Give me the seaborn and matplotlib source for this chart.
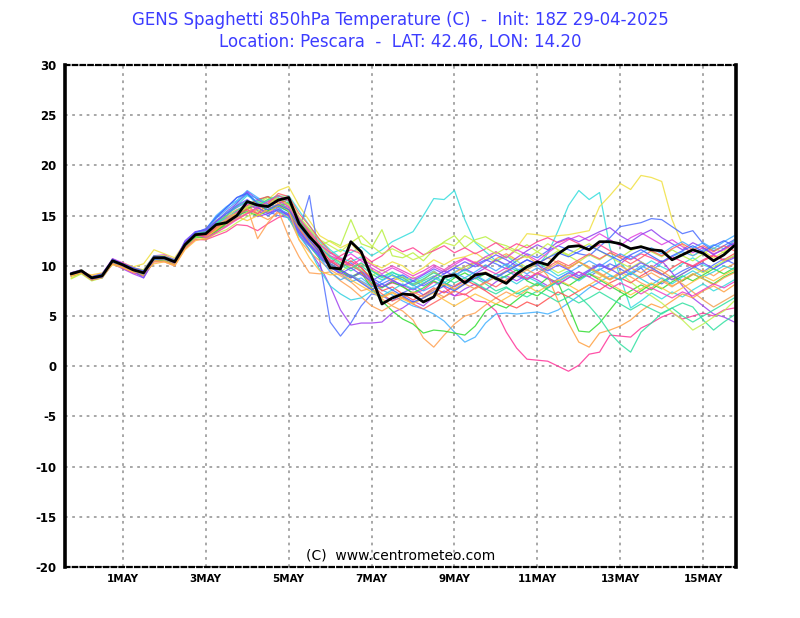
import pandas as pd
import seaborn as sns
import matplotlib.pyplot as plt

# 850hPa temperature, GENS members, 6-hourly from 18Z 29-04-2025 (hours after init)
hours = list(range(0, 385, 6))

# control / mean run (black line)
control = [9.2, 9.5, 8.8, 9.0, 10.5, 10.1, 9.6, 9.3, 10.8, 10.8, 10.4, 12.1, 13.1,
           13.2, 14.1, 14.3, 15.0, 16.4, 16.05, 15.9, 16.55, 16.8, 14.2, 12.9, 11.8, 9.8,
           9.7, 12.4, 11.4, 8.9, 6.2, 6.8, 7.2, 7.1, 6.4, 6.9, 8.9, 9.1, 8.3,
           9.1, 9.25, 8.75, 8.25, 9.2, 9.9, 10.4, 10.1, 11.2, 11.9, 12.0, 11.6, 12.4,
           12.4, 12.2, 11.7, 11.9, 11.6, 11.5, 10.6, 11.1, 11.6, 11.25, 10.5, 11.1, 12.0]

m01 = [9.1, 9.4, 8.7, 9.1, 10.4, 10.2, 9.5, 9.2, 10.6, 10.9, 10.3, 12.0, 12.9,
       13.0, 13.8, 14.6, 15.4, 16.0, 15.2, 15.6, 16.2, 15.8, 14.0, 12.8, 11.5, 10.6,
       10.0, 10.8, 9.9, 8.6, 7.9, 8.3, 8.0, 7.2, 7.6, 8.4, 7.9, 7.0, 7.2,
       6.5, 6.4, 5.5, 3.4, 1.8, 0.7, 0.6, 0.5, 0.0, -0.5, 0.1, 1.2, 1.4,
       3.1, 3.0, 2.9, 3.8, 4.3, 4.9, 5.3, 4.7, 5.0, 5.3, 5.0, 5.6, 5.8]
m02 = [9.3, 9.5, 8.9, 9.0, 10.6, 10.0, 9.7, 9.4, 10.9, 10.7, 10.5, 12.2, 13.2,
       13.3, 14.2, 14.9, 16.3, 17.2, 16.0, 16.4, 16.8, 16.2, 14.8, 13.6, 12.4, 11.2,
       11.6, 11.3, 11.9, 11.0, 11.6, 12.4, 12.9, 13.4, 15.0, 16.7, 16.6, 17.5, 14.6,
       12.3, 11.4, 10.5, 11.0, 10.2, 9.6, 10.3, 9.7, 9.0, 9.5, 8.8, 9.4, 10.1,
       9.6, 10.3, 9.2, 9.8, 10.5, 9.9, 9.4, 10.2, 10.8, 10.1, 9.7, 10.4, 11.0]
m03 = [9.2, 9.6, 8.8, 8.9, 10.5, 10.1, 9.8, 9.5, 10.7, 10.8, 10.4, 12.0, 13.0,
       13.4, 14.0, 14.5, 15.2, 16.0, 15.8, 16.5, 16.9, 17.0, 15.5, 14.0, 12.6, 11.6,
       10.8, 10.4, 10.9, 9.5, 8.8, 9.3, 9.0, 8.4, 8.9, 9.5, 8.7, 9.4, 9.9,
       10.3, 9.8, 10.6, 10.0, 9.5, 10.0, 10.0, 11.2, 13.5, 16.0, 17.5, 16.6, 17.3,
       11.8, 8.9, 5.8, 6.5, 7.3, 6.7, 7.4, 6.9, 7.6, 8.2, 7.5, 8.0, 8.6]
m04 = [8.8, 9.3, 9.0, 9.2, 10.3, 10.3, 9.9, 10.2, 11.6, 11.2, 10.8, 12.3, 13.0,
       12.9, 13.6, 14.3, 15.0, 15.6, 16.1, 16.6, 17.5, 17.9, 16.0, 14.5, 13.0, 12.4,
       11.8, 12.3, 11.0, 10.2, 9.8, 10.4, 10.0, 9.2, 9.8, 10.6, 10.1, 10.7, 10.9,
       11.3, 10.6, 11.4, 10.8, 11.8, 13.2, 13.1, 12.9, 13.0, 13.1, 13.3, 13.5, 15.9,
       17.0, 18.2, 17.6, 19.0, 18.8, 18.4, 14.6, 12.1, 11.0, 11.5, 10.8, 11.4, 12.6]
m05 = [9.2, 9.4, 8.6, 9.0, 10.6, 10.0, 9.4, 9.1, 10.8, 10.6, 10.2, 12.3, 13.3,
       13.1, 14.5, 15.2, 15.8, 16.4, 15.5, 15.0, 15.6, 15.2, 13.0, 12.0, 11.2, 10.4,
       9.8, 10.3, 9.5, 8.8, 8.2, 8.7, 9.1, 8.5, 8.0, 8.6, 9.2, 9.8, 9.5,
       10.1, 10.6, 10.2, 9.7, 10.5, 11.2, 10.8, 11.5, 12.0, 11.6, 11.2, 11.0, 11.9,
       12.8, 13.9, 14.1, 14.3, 14.7, 14.6, 13.9, 13.2, 13.5, 12.2, 11.5, 12.0, 12.6]
m06 = [9.1, 9.5, 8.9, 9.1, 10.4, 10.1, 9.7, 9.3, 10.9, 10.9, 10.4, 12.2, 13.0,
       13.5, 14.9, 15.8, 16.8, 17.3, 16.2, 15.4, 15.0, 14.8, 13.5, 17.0, 10.5, 4.4,
       3.0, 4.3, 6.0, 7.2, 7.0, 6.5, 7.3, 7.8, 7.1, 7.6, 8.3, 7.9, 8.5,
       9.0, 8.4, 8.9, 9.5, 9.0, 8.6, 9.2, 8.7, 8.1, 8.8, 9.4, 8.9, 9.6,
       10.2, 9.7, 9.1, 9.8, 8.7, 8.2, 8.9, 9.5, 10.0, 9.4, 10.1, 10.7, 10.2]
m07 = [9.0, 9.3, 8.6, 8.8, 10.2, 9.7, 9.2, 8.8, 10.5, 10.6, 10.1, 11.8, 12.8,
       13.0, 13.6, 14.0, 14.8, 15.6, 14.9, 15.2, 15.8, 15.0, 13.2, 11.6, 10.0, 8.0,
       5.6, 4.1, 4.3, 4.3, 4.4, 5.3, 5.8, 6.5, 6.0, 6.9, 7.5, 7.0, 7.7,
       8.2, 7.6, 8.4, 9.0, 8.5, 9.1, 8.6, 8.0, 8.7, 9.3, 8.8, 9.5, 10.1,
       9.6, 10.2, 11.0, 10.4, 9.8, 10.5, 9.3, 8.0, 6.8, 6.0, 5.2, 4.9, 4.4]
m08 = [9.2, 9.4, 8.8, 9.0, 10.3, 10.0, 9.5, 9.4, 10.5, 10.7, 10.2, 11.9, 13.0,
       13.4, 14.3, 15.0, 15.6, 15.9, 15.1, 14.6, 15.3, 14.9, 12.6, 11.4, 10.5, 9.6,
       9.0, 8.4, 7.5, 7.8, 6.7, 6.0, 5.5, 4.6, 2.8, 1.9, 3.1, 4.2, 5.0,
       5.3, 6.1, 6.8, 7.4, 6.9, 7.6, 8.2, 7.8, 8.5, 9.1, 8.6, 9.2, 8.8,
       9.5, 10.0, 9.4, 8.8, 9.3, 8.7, 8.0, 8.5, 9.1, 9.6, 9.0, 9.7, 10.2]
m09 = [9.3, 9.6, 8.8, 9.1, 10.5, 10.2, 9.7, 9.3, 10.8, 10.9, 10.5, 12.0, 13.2,
       13.6, 15.0, 15.9, 16.5, 17.5, 16.8, 16.2, 15.9, 15.4, 13.8, 12.3, 11.0, 9.9,
       9.2, 8.4, 8.8, 8.0, 7.6, 7.1, 6.5, 6.0, 5.7, 5.2, 4.5, 3.4, 2.4,
       2.9, 4.3, 5.2, 5.3, 5.2, 5.3, 5.4, 5.2, 5.6, 6.3, 7.0, 7.8, 8.4,
       9.0, 8.6, 9.3, 10.0, 9.5, 10.3, 10.9, 11.4, 11.0, 11.6, 12.1, 11.7, 12.5]
m10 = [9.0, 9.3, 8.6, 8.9, 10.3, 9.9, 9.4, 9.0, 10.6, 10.5, 10.2, 11.9, 12.9,
       12.8, 13.4, 14.2, 15.0, 15.4, 15.0, 15.5, 15.9, 16.3, 14.4, 13.1, 11.6, 10.2,
       9.6, 8.9, 9.4, 8.3, 7.8, 8.4, 7.9, 7.3, 7.8, 8.5, 8.0, 8.8, 9.3,
       8.7, 9.2, 8.6, 9.0, 9.6, 8.5, 8.0, 8.8, 8.3, 6.0, 3.5, 3.4, 4.3,
       5.6, 6.9, 7.5, 8.1, 7.6, 8.4, 9.0, 8.5, 9.2, 8.7, 8.2, 8.9, 9.4]
m11 = [9.1, 9.5, 8.9, 9.2, 10.5, 10.3, 9.8, 9.6, 10.9, 11.0, 10.6, 12.1, 13.0,
       13.2, 13.9, 14.2, 14.6, 15.2, 15.6, 16.2, 16.7, 16.1, 14.7, 13.5, 12.2, 11.0,
       10.4, 9.8, 10.2, 9.6, 9.0, 8.5, 8.9, 8.1, 8.6, 9.4, 8.8, 9.3, 9.9,
       10.4, 9.8, 10.7, 11.2, 10.6, 11.0, 10.2, 9.0, 6.5, 4.3, 2.4, 1.9, 3.3,
       3.6, 4.0, 4.6, 5.5, 6.2, 5.8, 6.5, 7.2, 6.8, 7.5, 8.0, 7.4, 8.1]
m12 = [9.2, 9.5, 8.7, 8.8, 10.4, 10.0, 9.6, 9.2, 10.7, 10.6, 10.3, 12.1, 13.1,
       13.3, 14.1, 14.8, 15.5, 16.2, 16.5, 16.9, 16.4, 15.6, 13.9, 12.7, 11.9, 10.8,
       10.1, 9.5, 10.0, 9.2, 8.6, 9.1, 8.6, 8.0, 8.5, 9.0, 8.4, 7.6, 8.2,
       8.8, 8.2, 7.5, 7.9, 7.2, 7.7, 8.3, 7.6, 7.1, 7.7, 7.0, 6.0, 4.8,
       3.3, 2.2, 1.4, 3.4, 4.3, 5.3, 5.8, 6.3, 5.9, 4.6, 3.6, 4.4, 5.1]
m13 = [8.7, 9.2, 8.5, 8.8, 10.2, 10.0, 9.5, 9.1, 10.6, 10.7, 10.3, 12.0, 12.8,
       13.1, 13.7, 14.4, 15.1, 15.8, 16.3, 16.8, 16.6, 16.0, 14.6, 13.3, 12.0, 12.5,
       12.0, 14.6, 12.2, 11.8, 13.6, 11.0, 10.8, 11.3, 10.5, 11.6, 12.4, 13.0, 11.8,
       12.6, 12.9, 12.3, 12.0, 11.5, 12.1, 11.4, 10.8, 11.5, 11.0, 10.4, 11.1, 10.6,
       11.3, 10.8, 11.5, 12.0, 11.4, 10.9, 11.6, 11.0, 10.5, 11.2, 11.8, 11.3, 12.1]
m14 = [9.0, 9.4, 8.7, 9.0, 10.4, 10.1, 9.6, 9.2, 10.7, 10.8, 10.4, 12.1, 13.0,
       12.7, 13.2, 13.6, 14.3, 14.9, 15.4, 15.9, 16.4, 16.0, 13.9, 12.4, 11.3, 10.0,
       9.4, 10.1, 9.6, 9.0, 9.6, 9.0, 8.4, 8.9, 8.2, 8.8, 9.5, 10.0, 9.6,
       10.3, 10.9, 10.4, 11.0, 10.5, 9.8, 10.4, 9.9, 9.3, 9.8, 10.4, 9.7, 9.1,
       8.6, 9.3, 8.4, 7.6, 7.0, 6.3, 5.4, 4.6, 3.6, 4.2, 4.9, 5.5, 6.5]
m15 = [9.1, 9.4, 8.8, 9.0, 10.5, 10.1, 9.6, 9.3, 10.6, 10.8, 10.3, 12.0, 12.9,
       12.8, 13.5, 14.3, 15.0, 15.7, 16.1, 15.5, 16.0, 15.4, 13.6, 12.0, 10.7, 10.1,
       9.5, 8.8, 9.3, 7.8, 6.5, 5.5, 4.7, 4.2, 3.3, 3.6, 3.5, 3.3, 3.1,
       4.0, 5.5, 6.2, 5.8, 6.6, 7.4, 7.0, 7.8, 8.5, 8.0, 8.7, 9.2, 8.6,
       8.0, 7.4, 6.8, 7.5, 8.2, 7.7, 8.4, 9.0, 8.5, 9.1, 9.7, 9.2, 9.8]
m16 = [9.2, 9.5, 8.7, 9.1, 10.6, 10.2, 9.7, 9.4, 10.9, 10.9, 10.5, 12.2, 13.1,
       13.0, 13.6, 14.4, 15.2, 16.0, 16.6, 16.9, 16.2, 16.6, 14.5, 13.2, 11.8, 10.5,
       9.8, 10.5, 9.8, 8.7, 7.5, 7.9, 7.2, 6.6, 7.1, 7.8, 7.3, 8.0, 8.6,
       8.1, 7.5, 6.8, 6.2, 5.8, 6.4, 6.0, 6.7, 7.4, 6.9, 7.5, 8.1, 7.6,
       8.3, 8.8, 8.3, 9.0, 9.6, 9.1, 9.8, 10.4, 9.9, 10.5, 11.0, 10.6, 11.2]
m17 = [9.3, 9.6, 8.9, 9.2, 10.7, 10.3, 9.8, 9.5, 11.0, 11.1, 10.6, 12.3, 13.3,
       13.2, 14.0, 14.7, 15.3, 16.1, 15.7, 16.2, 16.5, 15.9, 14.1, 12.9, 11.7, 11.0,
       10.6, 11.2, 10.5, 9.8, 9.2, 9.8, 9.3, 8.7, 9.2, 9.9, 9.4, 10.1, 10.7,
       10.2, 10.9, 11.4, 10.8, 11.6, 11.1, 10.5, 11.3, 12.0, 12.6, 13.0, 12.5, 13.2,
       12.6, 12.0, 12.8, 13.3, 12.7, 12.1, 12.6, 11.9, 11.3, 11.8, 11.2, 11.6, 12.2]
m18 = [9.0, 9.4, 8.6, 8.9, 10.3, 9.8, 9.3, 9.0, 10.4, 10.4, 10.0, 11.7, 12.6,
       12.6, 13.0, 13.4, 14.1, 14.0, 13.5, 14.2, 14.8, 15.2, 13.6, 12.5, 11.4, 10.3,
       11.0, 11.6, 11.2, 10.4, 11.0, 12.0, 11.4, 11.8, 11.1, 11.5, 12.0, 11.3, 11.8,
       11.2, 11.7, 12.3, 11.6, 12.2, 11.8, 12.4, 12.8, 12.3, 12.7, 12.2, 11.6, 12.1,
       11.5, 11.0, 10.6, 11.2, 10.8, 10.3, 10.9, 10.4, 10.0, 10.6, 11.1, 10.5, 10.9]
m19 = [9.1, 9.3, 8.8, 9.0, 10.2, 10.0, 9.4, 9.3, 10.5, 10.7, 10.2, 12.1, 13.3,
       13.6, 14.5, 14.9, 15.2, 15.8, 12.7, 14.3, 15.5, 12.9, 10.9, 9.3, 9.2, 9.4,
       8.5, 7.8, 6.9, 6.0, 5.5, 6.1, 6.8, 7.4, 6.9, 7.6, 8.2, 7.7, 8.3,
       8.9, 9.4, 8.8, 9.5, 10.1, 9.6, 10.2, 10.8, 10.3, 9.7, 10.4, 9.9, 9.3,
       8.7, 9.4, 8.9, 8.3, 7.8, 8.5, 7.9, 8.6, 9.2, 8.7, 8.1, 8.8, 9.3]
m20 = [9.2, 9.5, 8.8, 8.9, 10.7, 10.2, 9.6, 9.4, 10.9, 10.8, 10.5, 12.4, 13.4,
       13.6, 14.4, 15.4, 16.2, 17.4, 16.6, 16.0, 15.4, 15.1, 13.5, 12.2, 11.1, 10.0,
       9.3, 8.8, 9.4, 8.6, 7.9, 8.5, 8.1, 7.6, 8.2, 8.9, 9.5, 9.0, 9.7,
       9.2, 9.8, 10.6, 10.1, 10.8, 11.5, 12.1, 11.6, 12.4, 12.8, 12.4, 12.9, 13.4,
       13.8, 13.0, 12.4, 13.1, 13.6, 12.8, 12.2, 11.6, 12.3, 11.8, 11.1, 11.7, 12.3]
m21 = [9.1, 9.6, 8.8, 9.1, 10.5, 10.1, 9.7, 9.6, 11.0, 11.0, 10.6, 12.2, 13.1,
       13.3, 14.0, 14.6, 15.2, 15.9, 16.4, 16.0, 17.0, 16.7, 14.9, 13.7, 12.6, 12.0,
       11.4, 12.3, 13.0, 12.0, 11.2, 11.7, 11.2, 10.6, 11.0, 11.8, 12.3, 12.0, 13.0,
       12.4, 11.8, 11.2, 11.8, 11.3, 10.8, 11.4, 12.2, 11.6, 11.1, 11.7, 12.2, 11.5,
       10.9, 10.3, 9.8, 10.4, 9.8, 9.2, 8.6, 9.2, 9.8, 9.3, 9.9, 10.5, 11.0]
m22 = [9.2, 9.4, 8.7, 9.0, 10.4, 10.0, 9.6, 9.2, 10.7, 10.7, 10.4, 12.1, 13.1,
       13.2, 14.3, 15.3, 16.0, 17.0, 16.4, 15.8, 15.5, 14.7, 13.0, 11.6, 9.6, 8.0,
       7.2, 6.6, 6.8, 7.5, 7.0, 7.6, 8.2, 7.7, 8.3, 8.8, 8.3, 9.0, 9.6,
       9.1, 8.5, 9.2, 8.8, 8.2, 8.9, 8.4, 7.8, 8.4, 9.0, 8.5, 9.2, 9.7,
       9.1, 8.6, 9.3, 8.7, 8.1, 8.8, 8.2, 8.9, 9.5, 8.9, 9.4, 10.0, 9.6]
m23 = [9.3, 9.5, 8.9, 9.0, 10.5, 10.2, 9.7, 9.4, 10.8, 10.8, 10.4, 12.0, 13.2,
       13.0, 13.8, 14.5, 15.1, 15.6, 15.2, 16.2, 17.2, 16.9, 15.2, 14.0, 12.6, 11.4,
       10.7, 10.1, 9.4, 8.1, 7.2, 6.5, 6.9, 6.2, 5.7, 6.3, 6.9, 7.5, 7.1,
       7.8, 8.4, 7.9, 8.6, 9.2, 8.7, 9.3, 9.9, 10.5, 10.0, 10.6, 11.2, 10.7,
       11.3, 10.8, 10.2, 10.8, 11.5, 11.0, 11.7, 12.2, 11.6, 12.0, 11.4, 12.0, 11.5]
m24 = [9.1, 9.4, 8.8, 8.9, 10.4, 10.0, 9.5, 9.2, 10.6, 10.8, 10.3, 12.0, 13.0,
       13.4, 14.7, 15.6, 16.4, 17.1, 16.7, 16.1, 15.8, 15.0, 13.4, 12.0, 10.8, 9.4,
       8.6, 9.1, 8.5, 7.9, 8.5, 9.1, 8.6, 8.1, 7.5, 8.0, 8.7, 9.3, 8.8,
       9.4, 10.1, 9.5, 10.2, 9.7, 9.2, 9.8, 9.3, 8.7, 9.3, 9.9, 10.5, 9.9,
       10.6, 11.2, 10.7, 11.3, 11.8, 11.2, 11.9, 12.4, 11.8, 12.3, 11.7, 12.4, 13.0]
m25 = [9.0, 9.3, 8.6, 8.8, 10.2, 9.9, 9.4, 9.0, 10.4, 10.5, 10.1, 11.8, 12.7,
       12.6, 13.3, 14.0, 14.7, 15.3, 15.8, 15.3, 16.0, 15.6, 13.8, 12.5, 11.3, 10.2,
       9.6, 9.0, 8.4, 7.7, 6.9, 7.4, 6.8, 6.3, 6.8, 7.4, 6.9, 7.6, 8.2,
       7.7, 8.3, 8.9, 8.4, 9.0, 9.6, 9.1, 9.7, 10.3, 9.8, 10.4, 9.8, 9.2,
       8.6, 9.2, 9.8, 9.3, 10.0, 9.5, 8.8, 8.2, 7.4, 6.6, 5.9, 6.5, 7.1]
m26 = [9.2, 9.5, 8.8, 9.1, 10.6, 10.1, 9.6, 9.3, 10.8, 10.9, 10.4, 12.2, 13.2,
       13.4, 14.2, 15.0, 15.9, 16.5, 16.0, 16.6, 17.0, 16.4, 14.6, 13.0, 11.9, 10.9,
       10.3, 9.7, 10.3, 9.5, 8.9, 9.4, 8.8, 8.2, 8.7, 9.3, 8.8, 8.3, 8.8,
       8.3, 7.7, 7.2, 7.8, 7.3, 6.9, 7.5, 7.0, 6.4, 6.9, 6.3, 6.8, 7.4,
       6.8, 6.2, 5.6, 6.2, 5.7, 5.2, 5.8, 5.0, 4.4, 5.0, 5.6, 6.2, 6.8]
m27 = [9.1, 9.4, 8.7, 8.9, 10.6, 10.0, 9.5, 8.8, 10.7, 10.7, 10.3, 12.5, 13.4,
       13.5, 14.4, 15.2, 16.0, 16.6, 15.8, 15.2, 15.6, 15.0, 13.3, 12.1, 10.9, 9.9,
       9.2, 9.8, 9.1, 8.5, 9.1, 8.6, 8.0, 8.5, 9.1, 9.7, 9.2, 9.8, 10.4,
       9.9, 10.5, 11.1, 10.6, 10.0, 10.6, 10.1, 9.5, 10.1, 9.6, 9.0, 9.6, 10.2,
       9.7, 9.1, 9.7, 10.3, 9.8, 9.2, 8.6, 9.2, 9.8, 10.3, 9.7, 10.3, 10.8]
m28 = [9.0, 9.3, 9.1, 9.3, 10.1, 9.8, 9.4, 9.3, 10.2, 10.4, 10.0, 11.6, 12.5,
       12.8, 13.6, 14.4, 14.9, 14.5, 15.0, 15.6, 16.2, 15.5, 12.6, 10.8, 9.5, 9.1,
       9.2, 8.6, 8.0, 7.4, 6.8, 7.3, 6.7, 6.2, 6.8, 7.3, 6.6, 6.0, 6.6,
       7.2, 6.7, 6.2, 6.8, 7.4, 8.0, 7.4, 8.0, 8.6, 8.1, 7.5, 8.1, 8.7,
       8.2, 7.6, 7.1, 7.7, 8.3, 7.8, 7.2, 7.8, 8.4, 9.0, 8.5, 9.1, 9.6]
m29 = [9.2, 9.5, 8.8, 9.0, 10.5, 10.0, 9.6, 9.3, 10.8, 10.8, 10.3, 12.1, 13.1,
       12.8, 13.3, 13.9, 14.6, 15.2, 15.8, 16.4, 17.0, 16.5, 14.7, 13.4, 12.1, 11.3,
       10.6, 10.0, 10.7, 10.1, 9.5, 10.0, 9.5, 9.0, 9.5, 10.1, 9.6, 10.3, 10.8,
       10.3, 9.7, 9.2, 9.8, 9.2, 8.7, 9.3, 8.8, 8.2, 8.8, 9.4, 8.9, 8.3,
       7.7, 8.3, 7.8, 7.2, 7.8, 7.3, 6.8, 7.4, 7.0, 7.6, 8.2, 7.8, 8.4]
m30 = [9.3, 9.5, 8.9, 9.2, 10.6, 10.2, 9.8, 9.5, 11.0, 10.9, 10.6, 12.2, 13.3,
       13.7, 14.8, 15.8, 16.8, 17.2, 16.2, 15.6, 16.1, 15.6, 14.0, 12.6, 11.3, 10.2,
       9.6, 9.0, 8.3, 7.6, 8.2, 7.6, 7.0, 6.4, 6.8, 7.4, 8.0, 7.5, 8.2,
       8.8, 9.3, 8.8, 9.4, 10.0, 10.6, 10.2, 10.8, 11.3, 10.9, 11.4, 12.0, 11.5,
       11.0, 10.5, 11.1, 11.6, 11.0, 10.4, 11.0, 11.5, 12.0, 11.4, 12.0, 12.5, 12.0]

members = [m01, m02, m03, m04, m05, m06, m07, m08, m09, m10,
           m11, m12, m13, m14, m15, m16, m17, m18, m19, m20,
           m21, m22, m23, m24, m25, m26, m27, m28, m29, m30]
member_colors = ['#ff3399', '#33dddd', '#33dddd', '#f0e040', '#4a6cff',
                 '#5070ff', '#a040f0', '#ffa050', '#40b0ff', '#30dd30',
                 '#ffa040', '#30e0a0', '#b8f040', '#c0f050', '#30dd30',
                 '#ff5050', '#e040e0', '#ff4090', '#ffa050', '#9040f0',
                 '#c8f046', '#30d0e0', '#ff6060', '#40a8ff', '#f0a050',
                 '#30e0a0', '#7050ff', '#ffc040', '#f040c0', '#3c64ff']

tick_hours = [30, 78, 126, 174, 222, 270, 318, 366]
tick_labels = ['1MAY', '3MAY', '5MAY', '7MAY', '9MAY', '11MAY', '13MAY', '15MAY']

# tabella lunga per seaborn
rows = []
for k, vals in enumerate(members):
    for h, v in zip(hours, vals):
        rows.append({'hour': h, 'temp': v, 'member': 'm%02d' % (k + 1)})
df = pd.DataFrame(rows)
ctrl = pd.DataFrame({'hour': hours, 'temp': control})

sns.set_style('white')
plt.rcParams['font.family'] = ['DejaVu Sans']
plt.rcParams['axes.unicode_minus'] = False

fig = plt.figure(figsize=(8, 6.18), dpi=100)
ax = fig.add_axes([0.08125, 0.0825, 0.83875, 0.8123])

sns.lineplot(data=df, x='hour', y='temp', hue='member', palette=member_colors,
             legend=False, linewidth=0.9, alpha=0.85, ax=ax, estimator=None)
sns.lineplot(data=ctrl, x='hour', y='temp', color='black', linewidth=2.0, ax=ax,
             estimator=None)

ax.set_xlim(-3.5, 385)
ax.set_ylim(-20, 30)
ax.set_xticks(tick_hours)
ax.set_xticklabels(tick_labels)
ax.set_yticks(range(-20, 31, 5))
ax.set_xlabel('')
ax.set_ylabel('')

ax.grid(True, color='#a0a0a0', linestyle=(0, (1.5, 2.5)), linewidth=1.3)
ax.set_axisbelow(True)

for s in ['left', 'right']:
    ax.spines[s].set_linewidth(2.6)
    ax.spines[s].set_color('black')
for s in ['top', 'bottom']:
    ax.spines[s].set_linewidth(1.6)
    ax.spines[s].set_color('black')
    ax.spines[s].set_linestyle((0, (2, 1.5)))

ax.tick_params(axis='y', direction='out', length=4, width=1.5, pad=2,
               labelsize=8.5, colors='black')
ax.tick_params(axis='x', direction='inout', length=4, width=1.0, pad=3,
               labelsize=7.5, colors='black')
for lab in ax.get_xticklabels() + ax.get_yticklabels():
    lab.set_fontweight('bold')

ax.text(0.5, 0.008, '(C)  www.centrometeo.com', transform=ax.transAxes,
        ha='center', va='bottom', fontsize=10, color='black')

fig.text(0.5, 1 - 20 / 618, 'GENS Spaghetti 850hPa Temperature (C)  -  Init: 18Z 29-04-2025',
         ha='center', va='center', fontsize=12, color='#3c3cff')
fig.text(0.5, 1 - 42 / 618, 'Location: Pescara  -  LAT: 42.46, LON: 14.20',
         ha='center', va='center', fontsize=12, color='#3c3cff')

fig.savefig('out.png', dpi=100)
